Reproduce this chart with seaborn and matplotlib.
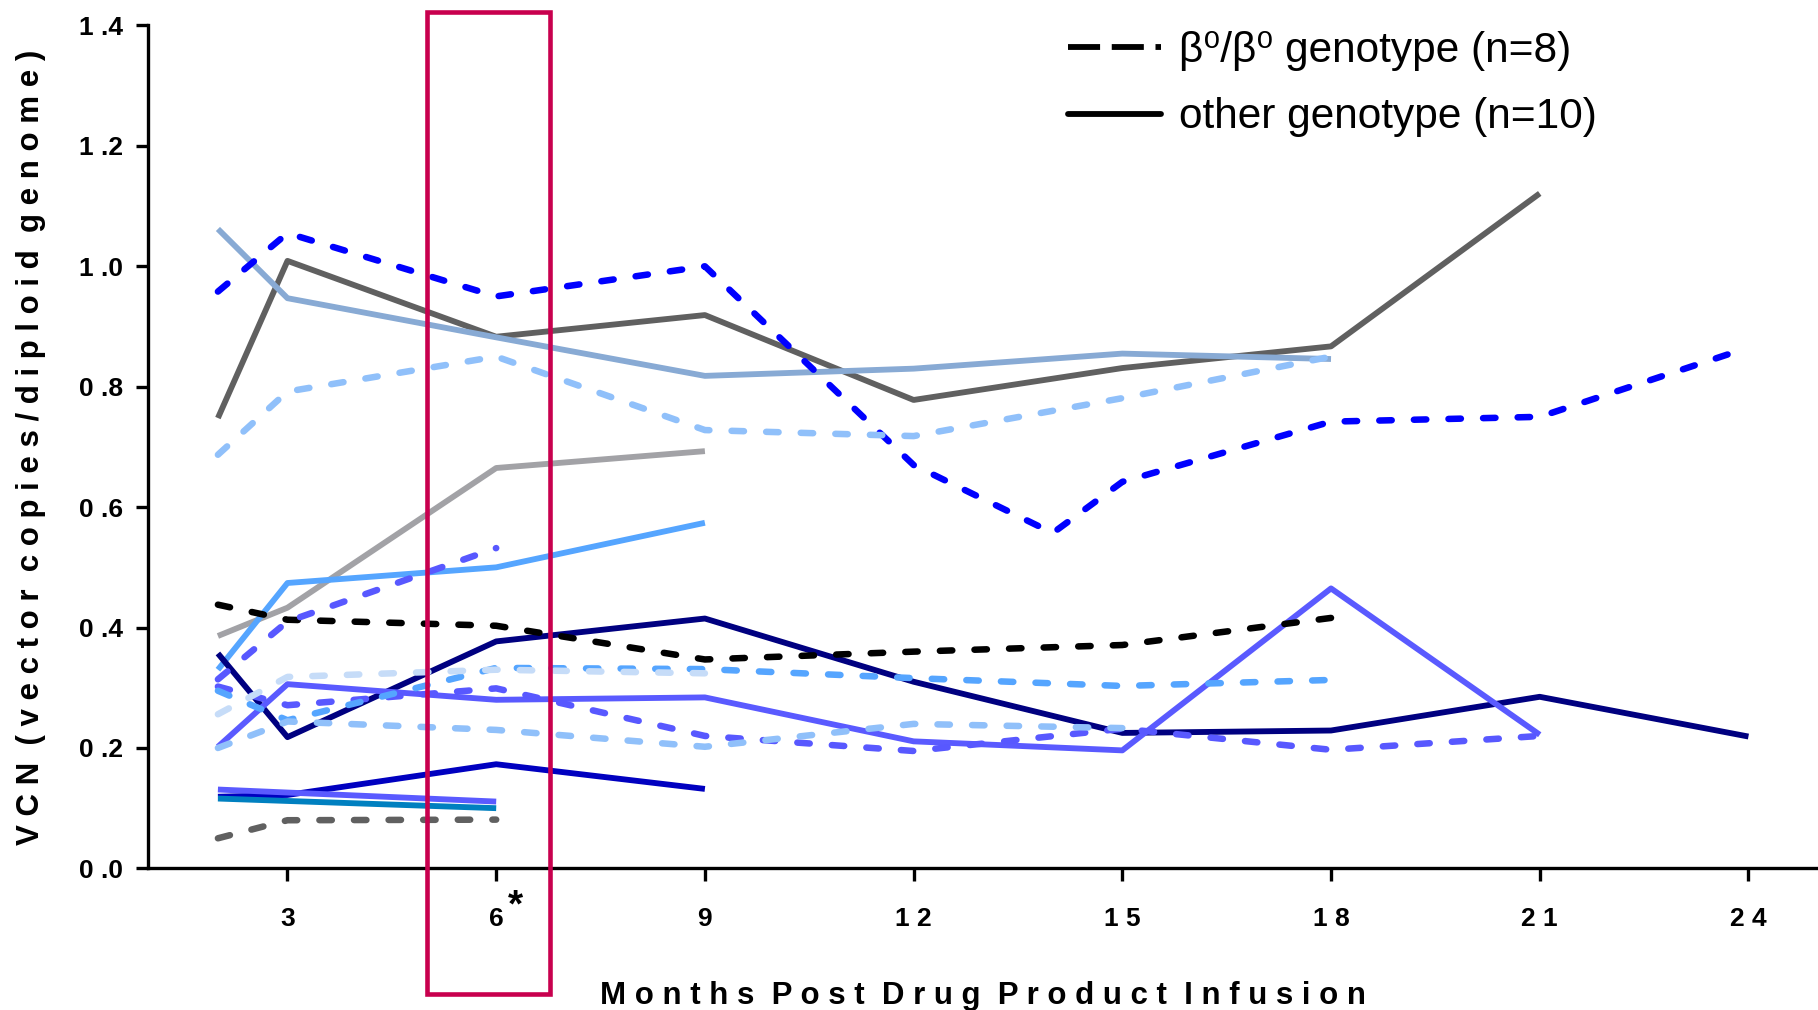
import matplotlib
matplotlib.use("Agg")
import matplotlib.pyplot as plt
from matplotlib.lines import Line2D
from matplotlib.patches import Rectangle
import seaborn as sns
import pandas as pd

# ---------------- data ----------------
# beta0/beta0 genotype (dashed)
d_names = ["D1", "D2", "D3", "D4", "D5", "D6", "D7", "D8", "D9"]
d_months = [
    [2, 3, 6, 9, 12, 14, 15, 18, 21, 24],
    [2, 3, 6, 9, 12, 15, 18],
    [2, 3, 6, 9, 12, 15, 18],
    [2, 3, 6],
    [2, 3, 6, 9, 12, 15, 18, 21],
    [2, 3, 6, 9, 12, 15, 18],
    [2, 3, 6, 9],
    [2, 3, 6, 9, 12, 15],
    [2, 3, 6],
]
d_values = [
    [0.958, 1.055, 0.950, 1.000, 0.670, 0.557, 0.642, 0.742, 0.750, 0.865],
    [0.687, 0.792, 0.850, 0.728, 0.718, 0.781, 0.850],
    [0.438, 0.413, 0.403, 0.347, 0.360, 0.371, 0.416],
    [0.314, 0.410, 0.532],
    [0.302, 0.271, 0.299, 0.220, 0.195, 0.232, 0.197, 0.220],
    [0.295, 0.246, 0.333, 0.331, 0.316, 0.303, 0.313],
    [0.256, 0.318, 0.330, 0.324],
    [0.200, 0.244, 0.230, 0.202, 0.240, 0.233],
    [0.050, 0.080, 0.081],
]
d_colors = ["#0000FF", "#90C0FA", "#000000", "#5858FF", "#5858FF",
            "#55A5FF", "#C6DCF8", "#90C0FA", "#606060"]

# other genotype (solid)
s_names = ["S1", "S2", "S3", "S4", "S5", "S6", "S7", "S8", "S9"]
s_months = [
    [2, 3, 6, 9, 12, 15, 18, 21],
    [2, 3, 6, 9, 12, 15, 18],
    [2, 3, 6, 9],
    [2, 3, 6, 9],
    [2, 3, 6, 9, 12, 15, 18, 21, 24],
    [2, 3, 6, 9, 12, 15, 18, 21],
    [2, 3, 6, 9],
    [2, 6],
    [2, 6],
]
s_values = [
    [0.748, 1.009, 0.883, 0.919, 0.778, 0.831, 0.867, 1.121],
    [1.062, 0.947, 0.882, 0.818, 0.830, 0.855, 0.846],
    [0.386, 0.433, 0.665, 0.693],
    [0.330, 0.474, 0.500, 0.574],
    [0.357, 0.218, 0.377, 0.415, 0.310, 0.225, 0.229, 0.285, 0.219],
    [0.202, 0.306, 0.280, 0.284, 0.211, 0.196, 0.465, 0.222],
    [0.119, 0.122, 0.173, 0.132],
    [0.131, 0.111],
    [0.116, 0.100],
]
s_colors = ["#606060", "#88AAD4", "#A2A2A6", "#55A5FF", "#000080",
            "#5A5AFF", "#0000C0", "#5A5AFF", "#0080C0"]

x_ticks = [3, 6, 9, 12, 15, 18, 21, 24]
x_ticklabels = ["3", "6", "9", "1 2", "1 5", "1 8", "2 1", "2 4"]
y_ticks = [0.0, 0.2, 0.4, 0.6, 0.8, 1.0, 1.2, 1.4]
y_ticklabels = ["0 .0", "0 .2", "0 .4", "0 .6", "0 .8", "1 .0", "1 .2", "1 .4"]
legend_labels = ["β⁰/β⁰ genotype (n=8)", "other genotype (n=10)"]
x_title = "Months Post Drug Product Infusion"
y_title = "VCN (vector copies/diploid genome)"


def spaced(s):
    return "  ".join(" ".join(w) for w in s.split(" "))


def long_df(names, months, values):
    rows = []
    for n, ms, vs in zip(names, months, values):
        for m, v in zip(ms, vs):
            rows.append({"patient": n, "month": m, "vcn": v})
    return pd.DataFrame(rows)


df_d = long_df(d_names, d_months, d_values)
df_s = long_df(s_names, s_months, s_values)

# ---------------- plot ----------------
sns.set_style("ticks")
plt.rcParams["font.family"] = ["Liberation Sans", "DejaVu Sans"]
for k in ["text.color", "axes.labelcolor", "xtick.color", "ytick.color"]:
    plt.rcParams[k] = "black"

fig = plt.figure(figsize=(18.18, 10.10), dpi=100)
ax = fig.add_axes([0.0816, 0.1402, 0.9184, 0.8346])

sns.lineplot(data=df_s, x="month", y="vcn", hue="patient",
             palette=dict(zip(s_names, s_colors)), hue_order=s_names,
             estimator=None, sort=False, legend=False, linewidth=4.2,
             solid_capstyle="butt", ax=ax)
sns.lineplot(data=df_d, x="month", y="vcn", hue="patient",
             palette=dict(zip(d_names, d_colors)), hue_order=d_names,
             estimator=None, sort=False, legend=False, linewidth=4.7,
             linestyle=(0, (1.9, 3.4)), dash_capstyle="round", ax=ax)

ax.set_xlim(1, 25)
ax.set_ylim(0, 1.4)
sns.despine(ax=ax)
for sp in ["left", "bottom"]:
    ax.spines[sp].set_linewidth(2.4)
    ax.spines[sp].set_color("black")

ax.set_xticks(x_ticks)
ax.set_xticklabels(x_ticklabels, fontsize=19, fontweight="bold")
ax.set_yticks(y_ticks)
ax.set_yticklabels(y_ticklabels, fontsize=19, fontweight="bold")
ax.tick_params(axis="both", direction="out", length=9, width=2.4, color="black")
ax.tick_params(axis="x", pad=19)
ax.tick_params(axis="y", pad=9)

ax.set_xlabel(spaced(x_title), fontsize=22.5, fontweight="bold", labelpad=36)
ax.set_ylabel(spaced(y_title), fontsize=22.5, fontweight="bold", labelpad=24)

# red highlight box
rect = Rectangle((5.0, -0.208), 1.78, 1.631, fill=False, edgecolor="#C8004E",
                 linewidth=3.3, clip_on=False, zorder=5)
ax.add_patch(rect)
ax.text(6.27, -0.064, "*", fontsize=28, fontweight="bold", ha="center",
        va="center", clip_on=False)

handles = [Line2D([0], [0], color="black", linewidth=4.2,
                  linestyle=(0, (5.5, 2.0))),
           Line2D([0], [0], color="black", linewidth=4.2)]
ax.legend(handles, legend_labels, loc="upper left",
          bbox_to_anchor=(0.578, 0.986), bbox_transform=fig.transFigure,
          frameon=False, fontsize=30.5, handlelength=2.2, handletextpad=0.42,
          labelspacing=0.62, borderaxespad=0)

fig.savefig("out.png", dpi=100)
